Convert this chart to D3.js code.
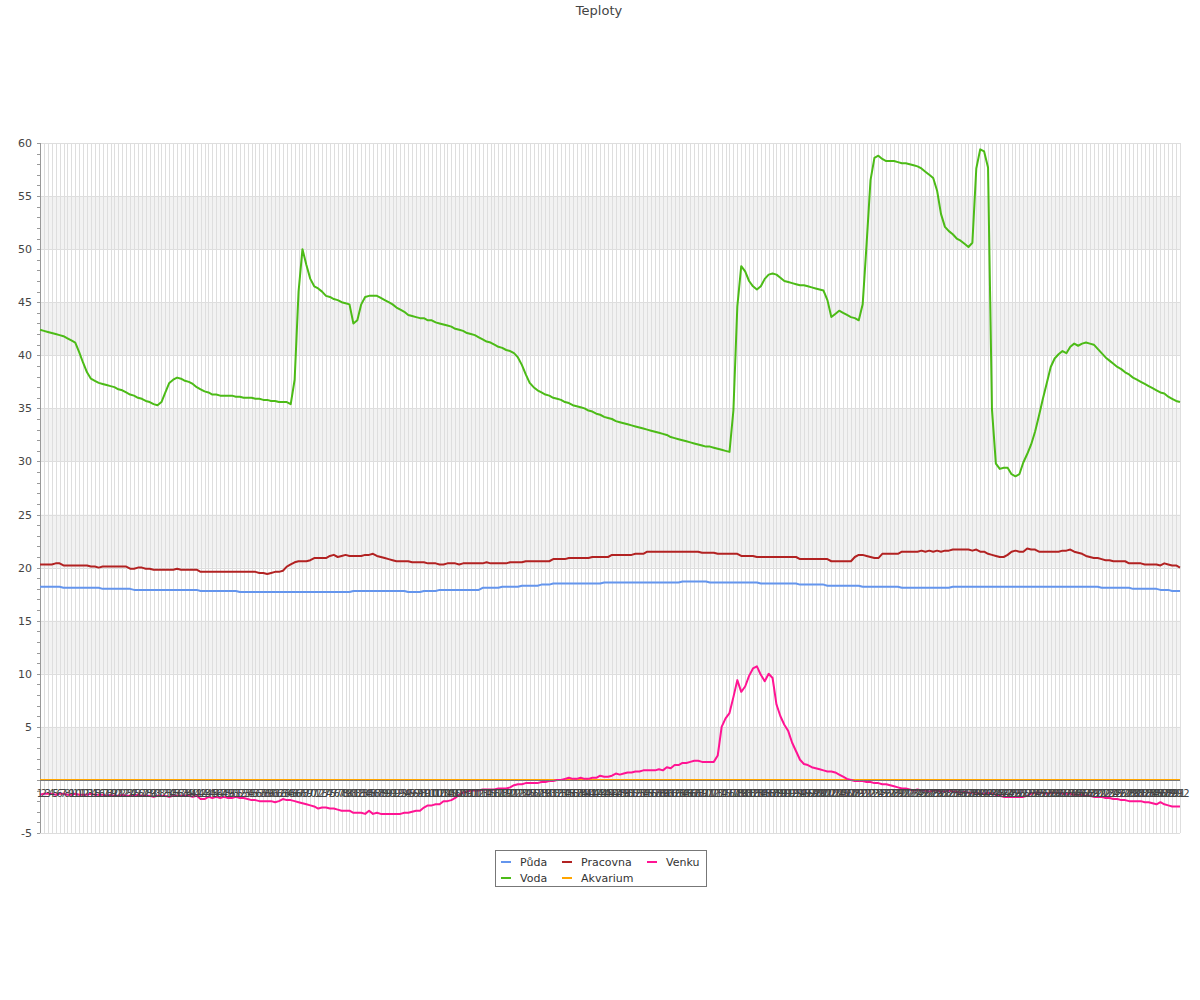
<!DOCTYPE html>
<html><head><meta charset="utf-8">
<script src="https://cdn.jsdelivr.net/npm/d3@7"></script>
<style>body{margin:0;background:#fff;font-family:"DejaVu Sans",sans-serif}</style>
</head><body><svg id="c" width="1200" height="1000"></svg>
<script>
const title = "Teploty";
const seriesNames = ["Půda","Voda","Pracovna","Akvarium","Venku"];
const seriesColors = ["#6495ed","#4cbb17","#b22222","#ffa500","#ff1493"];
const yTicks = [-5,5,10,15,20,25,30,35,40,45,50,55,60];

const voda = [
42.4,42.3,42.2,42.1,42.0,41.9,41.8,41.6,41.4,41.2,
40.3,39.3,38.4,37.8,37.6,37.4,37.3,37.2,37.1,37.0,
36.8,36.7,36.5,36.3,36.2,36.0,35.9,35.7,35.6,35.4,
35.3,35.6,36.5,37.4,37.7,37.9,37.8,37.6,37.5,37.3,
37.0,36.8,36.6,36.5,36.3,36.3,36.2,36.2,36.2,36.2,
36.1,36.1,36.0,36.0,36.0,35.9,35.9,35.8,35.8,35.7,
35.7,35.6,35.6,35.6,35.4,37.7,46.0,50.0,48.5,47.2,
46.5,46.3,46.0,45.6,45.5,45.3,45.2,45.0,44.9,44.8,
43.0,43.3,44.8,45.5,45.6,45.6,45.6,45.4,45.2,45.0,
44.8,44.5,44.3,44.1,43.8,43.7,43.6,43.5,43.5,43.3,
43.3,43.1,43.0,42.9,42.8,42.7,42.5,42.4,42.3,42.1,
42.0,41.9,41.7,41.5,41.3,41.2,41.0,40.8,40.7,40.5,
40.4,40.2,39.8,39.1,38.2,37.4,37.0,36.7,36.5,36.3,
36.2,36.0,35.9,35.8,35.6,35.5,35.3,35.2,35.1,35.0,
34.8,34.7,34.5,34.4,34.2,34.1,34.0,33.8,33.7,33.6,
33.5,33.4,33.3,33.2,33.1,33.0,32.9,32.8,32.7,32.6,
32.5,32.3,32.2,32.1,32.0,31.9,31.8,31.7,31.6,31.5,
31.4,31.4,31.3,31.2,31.1,31.0,30.9,34.8,44.6,48.4,
47.9,47.0,46.5,46.2,46.5,47.2,47.6,47.7,47.6,47.3,
47.0,46.9,46.8,46.7,46.6,46.6,46.5,46.4,46.3,46.2,
46.1,45.2,43.6,43.9,44.2,44.0,43.8,43.6,43.5,43.3,
44.8,50.5,56.5,58.6,58.8,58.5,58.3,58.3,58.3,58.2,
58.1,58.1,58.0,57.9,57.8,57.6,57.3,57.0,56.7,55.5,
53.3,52.1,51.7,51.4,51.0,50.8,50.5,50.2,50.6,57.6,
59.4,59.2,57.7,34.9,29.8,29.3,29.4,29.4,28.8,28.6,
28.8,29.9,30.7,31.6,32.8,34.3,35.9,37.4,38.9,39.7,
40.1,40.4,40.2,40.8,41.1,40.9,41.1,41.2,41.1,41.0,
40.6,40.2,39.8,39.5,39.2,38.9,38.7,38.4,38.2,37.9,
37.7,37.5,37.3,37.1,36.9,36.7,36.5,36.4,36.1,35.9,
35.7,35.6];

const puda = [
18.2,18.2,18.2,18.2,18.2,18.2,18.1,18.1,18.1,18.1,
18.1,18.1,18.1,18.1,18.1,18.1,18.0,18.0,18.0,18.0,
18.0,18.0,18.0,18.0,17.9,17.9,17.9,17.9,17.9,17.9,
17.9,17.9,17.9,17.9,17.9,17.9,17.9,17.9,17.9,17.9,
17.9,17.8,17.8,17.8,17.8,17.8,17.8,17.8,17.8,17.8,
17.8,17.7,17.7,17.7,17.7,17.7,17.7,17.7,17.7,17.7,
17.7,17.7,17.7,17.7,17.7,17.7,17.7,17.7,17.7,17.7,
17.7,17.7,17.7,17.7,17.7,17.7,17.7,17.7,17.7,17.7,
17.8,17.8,17.8,17.8,17.8,17.8,17.8,17.8,17.8,17.8,
17.8,17.8,17.8,17.8,17.7,17.7,17.7,17.7,17.8,17.8,
17.8,17.8,17.9,17.9,17.9,17.9,17.9,17.9,17.9,17.9,
17.9,17.9,17.9,18.1,18.1,18.1,18.1,18.1,18.2,18.2,
18.2,18.2,18.2,18.3,18.3,18.3,18.3,18.3,18.4,18.4,
18.4,18.5,18.5,18.5,18.5,18.5,18.5,18.5,18.5,18.5,
18.5,18.5,18.5,18.5,18.6,18.6,18.6,18.6,18.6,18.6,
18.6,18.6,18.6,18.6,18.6,18.6,18.6,18.6,18.6,18.6,
18.6,18.6,18.6,18.6,18.7,18.7,18.7,18.7,18.7,18.7,
18.7,18.6,18.6,18.6,18.6,18.6,18.6,18.6,18.6,18.6,
18.6,18.6,18.6,18.6,18.5,18.5,18.5,18.5,18.5,18.5,
18.5,18.5,18.5,18.5,18.4,18.4,18.4,18.4,18.4,18.4,
18.4,18.3,18.3,18.3,18.3,18.3,18.3,18.3,18.3,18.3,
18.2,18.2,18.2,18.2,18.2,18.2,18.2,18.2,18.2,18.2,
18.1,18.1,18.1,18.1,18.1,18.1,18.1,18.1,18.1,18.1,
18.1,18.1,18.1,18.2,18.2,18.2,18.2,18.2,18.2,18.2,
18.2,18.2,18.2,18.2,18.2,18.2,18.2,18.2,18.2,18.2,
18.2,18.2,18.2,18.2,18.2,18.2,18.2,18.2,18.2,18.2,
18.2,18.2,18.2,18.2,18.2,18.2,18.2,18.2,18.2,18.2,
18.2,18.1,18.1,18.1,18.1,18.1,18.1,18.1,18.1,18.0,
18.0,18.0,18.0,18.0,18.0,18.0,17.9,17.9,17.9,17.8,
17.8,17.8];

const pracovna = [
20.3,20.3,20.3,20.3,20.4,20.4,20.2,20.2,20.2,20.2,
20.2,20.2,20.2,20.1,20.1,20.0,20.1,20.1,20.1,20.1,
20.1,20.1,20.1,19.9,19.9,20.0,20.0,19.9,19.9,19.8,
19.8,19.8,19.8,19.8,19.8,19.9,19.8,19.8,19.8,19.8,
19.8,19.6,19.6,19.6,19.6,19.6,19.6,19.6,19.6,19.6,
19.6,19.6,19.6,19.6,19.6,19.6,19.5,19.5,19.4,19.5,
19.6,19.6,19.7,20.1,20.3,20.5,20.6,20.6,20.6,20.7,
20.9,20.9,20.9,20.9,21.1,21.2,21.0,21.1,21.2,21.1,
21.1,21.1,21.1,21.2,21.2,21.3,21.1,21.0,20.9,20.8,
20.7,20.6,20.6,20.6,20.6,20.5,20.5,20.5,20.5,20.4,
20.4,20.4,20.3,20.3,20.4,20.4,20.4,20.3,20.4,20.4,
20.4,20.4,20.4,20.4,20.5,20.4,20.4,20.4,20.4,20.4,
20.5,20.5,20.5,20.5,20.6,20.6,20.6,20.6,20.6,20.6,
20.6,20.8,20.8,20.8,20.8,20.9,20.9,20.9,20.9,20.9,
20.9,21.0,21.0,21.0,21.0,21.0,21.2,21.2,21.2,21.2,
21.2,21.2,21.3,21.3,21.3,21.5,21.5,21.5,21.5,21.5,
21.5,21.5,21.5,21.5,21.5,21.5,21.5,21.5,21.5,21.4,
21.4,21.4,21.4,21.3,21.3,21.3,21.3,21.3,21.3,21.1,
21.1,21.1,21.1,21.0,21.0,21.0,21.0,21.0,21.0,21.0,
21.0,21.0,21.0,21.0,20.8,20.8,20.8,20.8,20.8,20.8,
20.8,20.8,20.6,20.6,20.6,20.6,20.6,20.6,21.0,21.2,
21.2,21.1,21.0,20.9,20.9,21.3,21.3,21.3,21.3,21.3,
21.5,21.5,21.5,21.5,21.5,21.6,21.5,21.6,21.5,21.6,
21.5,21.6,21.6,21.7,21.7,21.7,21.7,21.7,21.6,21.7,
21.5,21.5,21.3,21.2,21.1,21.0,21.0,21.2,21.5,21.6,
21.5,21.5,21.8,21.7,21.7,21.5,21.5,21.5,21.5,21.5,
21.5,21.6,21.6,21.7,21.5,21.4,21.3,21.1,21.0,20.9,
20.9,20.8,20.7,20.7,20.6,20.6,20.6,20.6,20.4,20.4,
20.4,20.4,20.3,20.3,20.3,20.3,20.2,20.4,20.3,20.2,
20.2,20.0];

const akvarium = new Array(292).fill(0);

const venku = [
-1.4,-1.3,-1.3,-1.3,-1.4,-1.3,-1.3,-1.4,-1.4,-1.3,
-1.4,-1.4,-1.4,-1.3,-1.4,-1.4,-1.4,-1.5,-1.4,-1.5,
-1.5,-1.4,-1.5,-1.5,-1.5,-1.4,-1.5,-1.5,-1.5,-1.6,
-1.5,-1.5,-1.5,-1.6,-1.5,-1.5,-1.5,-1.5,-1.5,-1.6,
-1.5,-1.8,-1.8,-1.6,-1.7,-1.6,-1.7,-1.6,-1.7,-1.7,
-1.6,-1.7,-1.7,-1.8,-1.9,-1.9,-2.0,-2.0,-2.0,-2.0,
-2.1,-2.0,-1.8,-1.9,-1.9,-2.0,-2.1,-2.2,-2.3,-2.4,
-2.5,-2.7,-2.6,-2.6,-2.7,-2.7,-2.8,-2.9,-2.9,-2.9,
-3.1,-3.1,-3.1,-3.2,-2.9,-3.2,-3.1,-3.2,-3.2,-3.2,
-3.2,-3.2,-3.2,-3.1,-3.1,-3.0,-2.9,-2.9,-2.6,-2.4,
-2.4,-2.3,-2.3,-2.0,-2.0,-1.9,-1.7,-1.4,-1.2,-1.1,
-1.0,-1.0,-1.0,-0.9,-0.9,-0.9,-0.9,-0.8,-0.8,-0.8,
-0.7,-0.5,-0.4,-0.4,-0.3,-0.3,-0.3,-0.3,-0.2,-0.2,
-0.1,-0.1,0.0,0.0,0.1,0.2,0.1,0.1,0.2,0.1,
0.1,0.2,0.2,0.4,0.3,0.3,0.4,0.6,0.5,0.6,
0.7,0.7,0.8,0.8,0.9,0.9,0.9,0.9,1.0,0.9,
1.2,1.1,1.4,1.4,1.6,1.6,1.7,1.8,1.8,1.7,
1.7,1.7,1.7,2.3,5.0,5.8,6.3,7.8,9.4,8.3,
8.8,9.8,10.5,10.7,9.9,9.3,10.0,9.6,7.1,6.0,
5.2,4.6,3.5,2.7,1.9,1.5,1.4,1.2,1.1,1.0,
0.9,0.8,0.8,0.7,0.5,0.3,0.1,0.0,-0.1,-0.1,
-0.1,-0.2,-0.2,-0.3,-0.3,-0.4,-0.4,-0.5,-0.6,-0.7,
-0.8,-0.8,-0.9,-1.0,-0.9,-1.0,-1.0,-1.1,-1.0,-1.0,
-1.1,-1.1,-1.0,-1.1,-1.1,-1.2,-1.1,-1.2,-1.2,-1.2,
-1.3,-1.3,-1.2,-1.3,-1.4,-1.5,-1.6,-1.6,-1.6,-1.6,
-1.6,-1.6,-1.5,-1.3,-1.2,-1.2,-1.2,-1.3,-1.2,-1.2,
-1.2,-1.3,-1.3,-1.3,-1.4,-1.4,-1.4,-1.5,-1.5,-1.6,
-1.6,-1.6,-1.7,-1.7,-1.8,-1.8,-1.9,-1.9,-2.0,-2.0,
-2.0,-2.0,-2.1,-2.1,-2.2,-2.3,-2.1,-2.3,-2.4,-2.5,
-2.5,-2.5];

const N = voda.length;
const xLabels = d3.range(1, N + 1).map(String);
const seriesData = [puda, voda, pracovna, akvarium, venku];

const svg = d3.select("#c");
const L = 40, R = 1180, T = 143, B = 833;
const x = d3.scalePoint().domain(xLabels).range([L, R]);
const y = d3.scaleLinear().domain([-5, 60]).range([B, T]);

// bands
const bands = [[0,5],[10,15],[20,25],[30,35],[40,45],[50,55]];
svg.append("g").selectAll("rect").data(bands).join("rect")
  .attr("x", L).attr("width", R - L)
  .attr("y", d => y(d[1])).attr("height", d => y(d[0]) - y(d[1]))
  .attr("fill", "#f2f2f2");

// vertical grid
svg.append("g").selectAll("line").data(xLabels).join("line")
  .attr("x1", d => Math.round(x(d)) + 0.5).attr("x2", d => Math.round(x(d)) + 0.5)
  .attr("y1", T).attr("y2", B)
  .attr("stroke", "#dedede").attr("stroke-width", 1);

// horizontal grid
svg.append("g").selectAll("line").data(d3.range(-5, 61, 5)).join("line")
  .attr("x1", L).attr("x2", R)
  .attr("y1", d => Math.round(y(d)) + 0.5).attr("y2", d => Math.round(y(d)) + 0.5)
  .attr("stroke", "#dedede");

// y axis
const ya = svg.append("g");
ya.append("line").attr("x1", L + 0.5).attr("x2", L + 0.5).attr("y1", T).attr("y2", B)
  .attr("stroke", "#999");
ya.selectAll("line.mn").data(d3.range(-5, 61, 1)).join("line").attr("class","mn")
  .attr("x1", L - 3).attr("x2", L)
  .attr("y1", d => Math.round(y(d)) + 0.5).attr("y2", d => Math.round(y(d)) + 0.5)
  .attr("stroke", "#999");
ya.selectAll("text").data(yTicks).join("text")
  .attr("x", L - 8).attr("y", d => y(d) + 4)
  .attr("text-anchor", "end").attr("font-size", 11).attr("fill", "#444")
  .text(d => d);

// lines
const line = d3.line().x((d, i) => x(xLabels[i])).y(d => y(d));
svg.append("g").selectAll("path").data(seriesData).join("path")
  .attr("d", d => line(d)).attr("fill", "none")
  .attr("stroke", (d, i) => seriesColors[i]).attr("stroke-width", 2)
  .attr("stroke-linejoin", "round");

// x axis
svg.append("line").attr("x1", L).attr("x2", R).attr("y1", 780.5).attr("y2", 780.5)
  .attr("stroke", "#777");
svg.append("g").selectAll("text").data(xLabels).join("text")
  .attr("x", d => x(d)).attr("y", y(0) + 17)
  .attr("text-anchor", "middle").attr("font-size", 10).attr("fill", "#444")
  .text(d => d);

// title
svg.append("text").attr("x", 599).attr("y", 15).attr("text-anchor", "middle")
  .attr("font-size", 13).attr("fill", "#444").text(title);

// legend
const lg = svg.append("g");
lg.append("rect").attr("x", 495.5).attr("y", 850.5).attr("width", 211).attr("height", 36)
  .attr("fill", "#fff").attr("stroke", "#777");
const pos = [[501,862],[501,878],[562,862],[562,878],[647,862]];
seriesNames.forEach((n, i) => {
  const [px, py] = pos[i];
  lg.append("line").attr("x1", px).attr("x2", px + 10).attr("y1", py).attr("y2", py)
    .attr("stroke", seriesColors[i]).attr("stroke-width", 2);
  lg.append("text").attr("x", px + 19).attr("y", py + 4).attr("font-size", 11)
    .attr("fill", "#333").text(n);
});
</script></body></html>
